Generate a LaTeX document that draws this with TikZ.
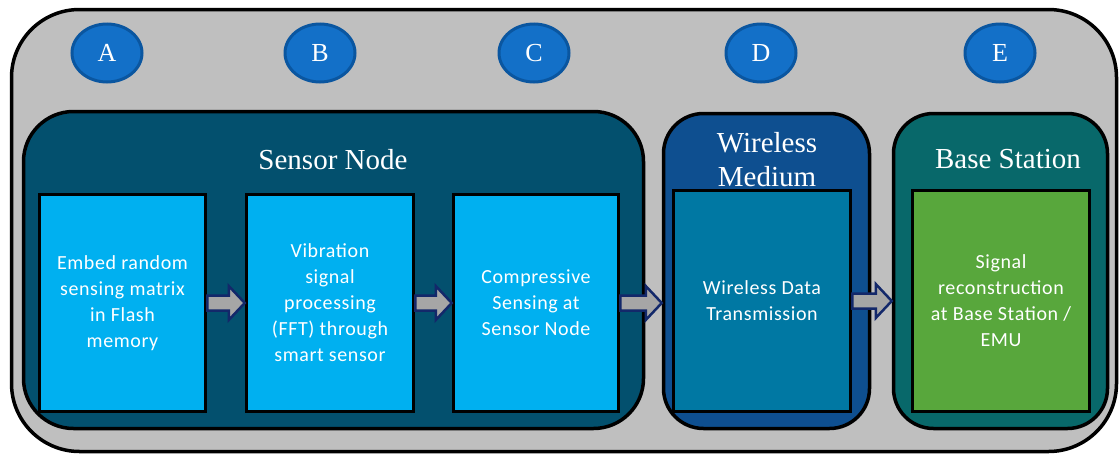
\documentclass[tikz,border=0pt]{standalone}
\usepackage{fontspec}
\setmainfont{Liberation Serif}
\newfontfamily\boxfont[LetterSpace=3]{Carlito}
\usetikzlibrary{shapes.geometric,calc}
\definecolor{outergray}{HTML}{BFBFBF}
\definecolor{sensorpanel}{HTML}{03506E}
\definecolor{wirelesspanel}{HTML}{0E4F90}
\definecolor{basepanel}{HTML}{08686A}
\definecolor{lightbox}{HTML}{00B0F0}
\definecolor{wirebox}{HTML}{0078A3}
\definecolor{greenbox}{HTML}{58A73C}
\definecolor{circfill}{HTML}{1370C8}
\definecolor{circline}{HTML}{0A56A0}
\definecolor{arrfill}{HTML}{A6A6A6}
\definecolor{arrline}{HTML}{13286A}
\tikzset{
  panel/.style={draw=black, line width=3.5pt, rounded corners=#1, inner sep=0pt},
  stepbox/.style={draw=black, line width=3.5pt, inner sep=0pt, text=white,
     align=center, font=\boxfont\fontsize{20}{26}\selectfont},
  badge/.style={ellipse, draw=circline, fill=circfill, line width=3pt,
     minimum width=70pt, minimum height=58pt, inner sep=0pt, text=white,
     font=\fontsize{26}{26}\selectfont},
  title/.style={text=white, align=center, font=\fontsize{29}{34}\selectfont, inner sep=0pt},
  barrow/.style={draw=arrline, fill=arrfill, line width=2.5pt, line join=miter}
}
\newcommand\blockarr[2]{%
  \draw[barrow] let \p1=(#1.east), \p2=(#2.west) in
    (\x1,{\y1+7.5pt}) -- ({\x2-16pt},{\y1+7.5pt}) -- ({\x2-16pt},{\y1+17pt})
    -- (\x2,\y1) -- ({\x2-16pt},{\y1-17pt}) -- ({\x2-16pt},{\y1-7.5pt})
    -- (\x1,{\y1-7.5pt}) -- cycle;}
\begin{document}
\begin{tikzpicture}[x=1pt,y=-1pt]
\fill[white] (0,0) rectangle (1119,458);
\useasboundingbox (0,0) rectangle (1119,458);
% outer container
\node[panel=68pt, fill=outergray, minimum width=1105pt, minimum height=442pt] (outer) at (564,230.5) {};
% badges
\node[badge] (cA) at (107,53) {A};
\node[badge] (cB) at (320,53) {B};
\node[badge] (cC) at (534,53) {C};
\node[badge] (cD) at (761,53) {D};
\node[badge] (cE) at (1000,53) {E};
% panels
\node[panel=50pt, fill=sensorpanel, minimum width=620pt, minimum height=317pt] (sensor) at (333.5,270) {};
\node[panel=40pt, fill=wirelesspanel, minimum width=206pt, minimum height=315pt] (wireless) at (766.5,271) {};
\node[panel=40pt, fill=basepanel, minimum width=214pt, minimum height=315pt] (base) at (1000.5,271) {};
% step boxes
\node[stepbox, fill=lightbox, minimum width=166pt, minimum height=217pt] (b1) at (122.5,303)
  {Embed random\\sensing matrix\\in Flash\\memory};
\node[stepbox, fill=lightbox, minimum width=167pt, minimum height=217pt] (b2) at (330,303)
  {Vibration\\signal\\processing\\(FFT) through\\smart sensor};
\node[stepbox, fill=lightbox, minimum width=165pt, minimum height=217pt] (b3) at (536,303)
  {Compressive\\Sensing at\\Sensor Node};
\node[stepbox, fill=wirebox, minimum width=177pt, minimum height=221pt] (b4) at (762,301)
  {Wireless Data\\Transmission};
\node[stepbox, fill=greenbox, minimum width=177pt, minimum height=221pt] (b5) at (1001,301)
  {Signal\\reconstruction\\at Base Station /\\EMU};
% titles
\node[title] (tSensor) at (333,160) {Sensor Node};
\node[title] (tWireless) at (767,160) {Wireless\\Medium};
\node[title] (tBase) at (1008,159) {Base Station};
% arrows
\blockarr{b1}{b2}
\blockarr{b2}{b3}
\blockarr{b3}{wireless}
\blockarr{b4}{base}
\end{tikzpicture}
\end{document}
